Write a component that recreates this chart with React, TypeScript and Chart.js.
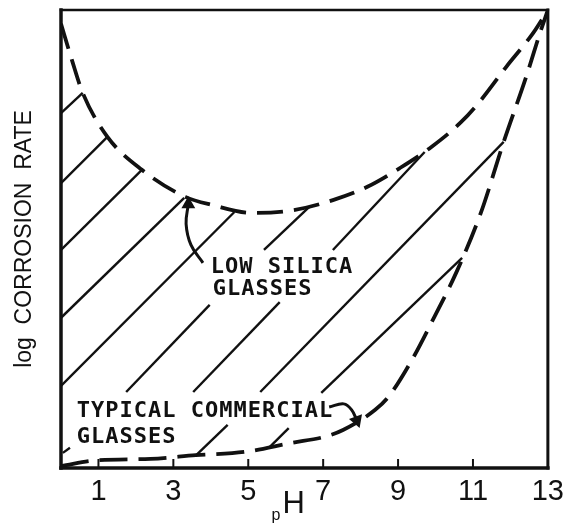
import React, { useEffect, useRef } from "react";
import { Chart, registerables } from "chart.js";

Chart.register(...registerables);

// x-axis tick labels (pH)
const phTicks = [1, 3, 5, 7, 9, 11, 13];
// short inner tick marks on the bottom axis
const innerTickMarks = [1, 3, 5, 7, 9, 11];

// Upper dashed curve: low silica glasses (pH, log corrosion rate in relative units 0..10)
const lowSilicaPH = [0, 0.29, 0.58, 1.24, 2.16, 3.32, 4.05, 5.1, 6.21, 7.26, 8.18, 9.05, 9.89, 10.68, 11.21, 11.89, 12.61, 13];
const lowSilicaRate = [9.7, 8.91, 8.19, 7.23, 6.51, 5.92, 5.74, 5.57, 5.63, 5.85, 6.14, 6.55, 7.01, 7.55, 8.03, 8.76, 9.5, 10];

// Lower dashed curve: typical commercial glasses
const commercialPH = [0, 0.97, 2.39, 3.6, 4.89, 6.16, 7.03, 7.53, 8.39, 8.74, 9.37, 9.97, 10.55, 11.21, 11.82, 12.42, 12.79, 13];
const commercialRate = [0.04, 0.17, 0.2, 0.28, 0.35, 0.55, 0.68, 0.83, 1.27, 1.55, 2.36, 3.3, 4.26, 5.57, 7.12, 8.54, 9.5, 10];

// Hatch segments between the curves (start / end)
const hatchFromPH = [0, 0, 0, 0, 0, 0.05, 1.74, 5.42, 3.53, 7.26, 3.61, 5.32, 5.55, 6.95];
const hatchFromRate = [7.75, 6.22, 4.76, 3.28, 1.79, 0.33, 1.66, 4.76, 1.66, 4.76, 0.28, 1.66, 0.44, 1.64];
const hatchToPH = [0.58, 1.24, 2.16, 3.29, 4.63, 0.24, 3.97, 6.63, 5.84, 9.71, 4.45, 11.82, 6.08, 10.71];
const hatchToRate = [8.19, 7.23, 6.51, 5.9, 5.59, 0.44, 3.56, 5.7, 3.62, 6.9, 0.94, 7.12, 0.87, 4.59];

// Pointer arrows from the labels to the curves
const lowSilicaArrowPH = [3.79, 3.47, 3.34, 3.4];
const lowSilicaArrowRate = [4.48, 4.87, 5.33, 5.76];
const commercialArrowPH = [7.16, 7.55, 7.76, 7.9];
const commercialArrowRate = [1.33, 1.4, 1.27, 1.04];

// Annotation texts and their anchors (left x, baseline y in data units)
const labelLines = ["LOW SILICA", "GLASSES", "TYPICAL COMMERCIAL", "GLASSES"];
const labelPH = [4.0, 4.05, 0.42, 0.42];
const labelRate = [4.26, 3.78, 1.11, 0.55];

const yTitle = "log  CORROSION  RATE";

const INK = "#111111";

const toPoints = (xs: number[], ys: number[]) => xs.map((x, i) => ({ x, y: ys[i] }));

const decorPlugin = {
  id: "decor",
  afterDatasetsDraw(chart: any) {
    const { ctx, chartArea } = chart;
    const xs = chart.scales.x;
    const ys = chart.scales.y;
    const { left, right, top, bottom } = chartArea;
    ctx.save();
    ctx.strokeStyle = INK;
    ctx.lineCap = "square";
    // frame
    const side = (x1: number, y1: number, x2: number, y2: number, w: number) => {
      ctx.lineWidth = w;
      ctx.beginPath();
      ctx.moveTo(x1, y1);
      ctx.lineTo(x2, y2);
      ctx.stroke();
    };
    side(left, top, right, top, 2.5);
    side(right, top, right, bottom, 3);
    side(left, top, left, bottom, 3.5);
    side(left, bottom, right, bottom, 3.5);
    // inner tick marks
    ctx.lineWidth = 2;
    innerTickMarks.forEach((v) => {
      const px = xs.getPixelForValue(v);
      ctx.beginPath();
      ctx.moveTo(px, bottom);
      ctx.lineTo(px, bottom - 8);
      ctx.stroke();
    });
    // annotation texts
    ctx.fillStyle = INK;
    ctx.font = "bold 22px 'DejaVu Sans Mono', monospace";
    ctx.textAlign = "left";
    ctx.textBaseline = "alphabetic";
    try { (ctx as any).letterSpacing = "1px"; } catch (e) {}
    labelLines.forEach((t, i) => {
      ctx.fillText(t, xs.getPixelForValue(labelPH[i]), ys.getPixelForValue(labelRate[i]));
    });
    try { (ctx as any).letterSpacing = "0px"; } catch (e) {}
    // x title "pH"
    const cx = (left + right) / 2;
    ctx.font = "16px 'Liberation Sans', Arial, sans-serif";
    ctx.fillText("p", cx - 33, bottom + 52);
    ctx.font = "31px 'Liberation Sans', Arial, sans-serif";
    ctx.fillText("H", cx - 22, bottom + 45);
    ctx.restore();
  },
};

export default function App() {
  const ref = useRef<HTMLCanvasElement | null>(null);
  useEffect(() => {
    document.body.style.margin = "0";
    const canvas = ref.current;
    if (!canvas) return;
    const hatchSets = hatchFromPH.map((_, i) => ({
      label: "hatch" + i,
      data: [
        { x: hatchFromPH[i], y: hatchFromRate[i] },
        { x: hatchToPH[i], y: hatchToRate[i] },
      ],
      borderColor: INK,
      borderWidth: 2.4,
      pointRadius: 0,
      fill: false,
    }));
    const chart = new Chart(canvas, {
      type: "line",
      data: {
        datasets: [
          {
            label: "Low silica glasses",
            data: toPoints(lowSilicaPH, lowSilicaRate),
            borderColor: INK,
            borderWidth: 3.8,
            borderDash: [26, 11],
            pointRadius: 0,
            cubicInterpolationMode: "monotone",
            fill: false,
          },
          {
            label: "Typical commercial glasses",
            data: toPoints(commercialPH, commercialRate),
            borderColor: INK,
            borderWidth: 3.8,
            borderDash: [28, 11],
            pointRadius: 0,
            cubicInterpolationMode: "monotone",
            fill: false,
          },
          ...hatchSets,
          {
            label: "arrow1",
            data: toPoints(lowSilicaArrowPH, lowSilicaArrowRate),
            borderColor: INK,
            borderWidth: 3,
            tension: 0.4,
            pointRadius: [0, 0, 0, 5],
            pointStyle: "triangle",
            pointBackgroundColor: INK,
            pointBorderColor: INK,
            fill: false,
          },
          {
            label: "arrow2",
            data: toPoints(commercialArrowPH, commercialArrowRate),
            borderColor: INK,
            borderWidth: 3,
            tension: 0.4,
            pointRadius: [0, 0, 0, 5],
            pointStyle: "triangle",
            rotation: 160,
            pointBackgroundColor: INK,
            pointBorderColor: INK,
            fill: false,
          },
        ] as any,
      },
      options: {
        animation: false,
        responsive: false,
        devicePixelRatio: 1,
        layout: { padding: { top: 10, right: 16, left: 0, bottom: 0 } },
        plugins: { legend: { display: false }, tooltip: { enabled: false } },
        scales: {
          x: {
            type: "linear",
            min: 0,
            max: 13,
            grid: { display: false, drawTicks: false },
            border: { display: false },
            afterBuildTicks: (s: any) => {
              s.ticks = phTicks.map((v) => ({ value: v }));
            },
            afterFit: (s: any) => {
              s.height = 55;
            },
            ticks: {
              autoSkip: false,
              maxRotation: 0,
              padding: 7,
              color: INK,
              font: { family: "'Liberation Sans', Arial, sans-serif", size: 29 },
            },
          },
          y: {
            type: "linear",
            min: 0,
            max: 10,
            grid: { display: false, drawTicks: false },
            border: { display: false },
            ticks: { display: false },
            afterFit: (s: any) => {
              s.width = 61;
            },
            title: {
              display: true,
              text: yTitle,
              color: INK,
              padding: { top: 11, bottom: 0 },
              font: { family: "'Liberation Sans', Arial, sans-serif", size: 23 },
            },
          },
        },
      } as any,
      plugins: [decorPlugin],
    });
    return () => chart.destroy();
  }, []);
  return (
    <div style={{ width: 571, height: 523, background: "#fff" }}>
      <canvas ref={ref} width={571} height={523} style={{ display: "block", width: 571, height: 523 }} />
    </div>
  );
}
